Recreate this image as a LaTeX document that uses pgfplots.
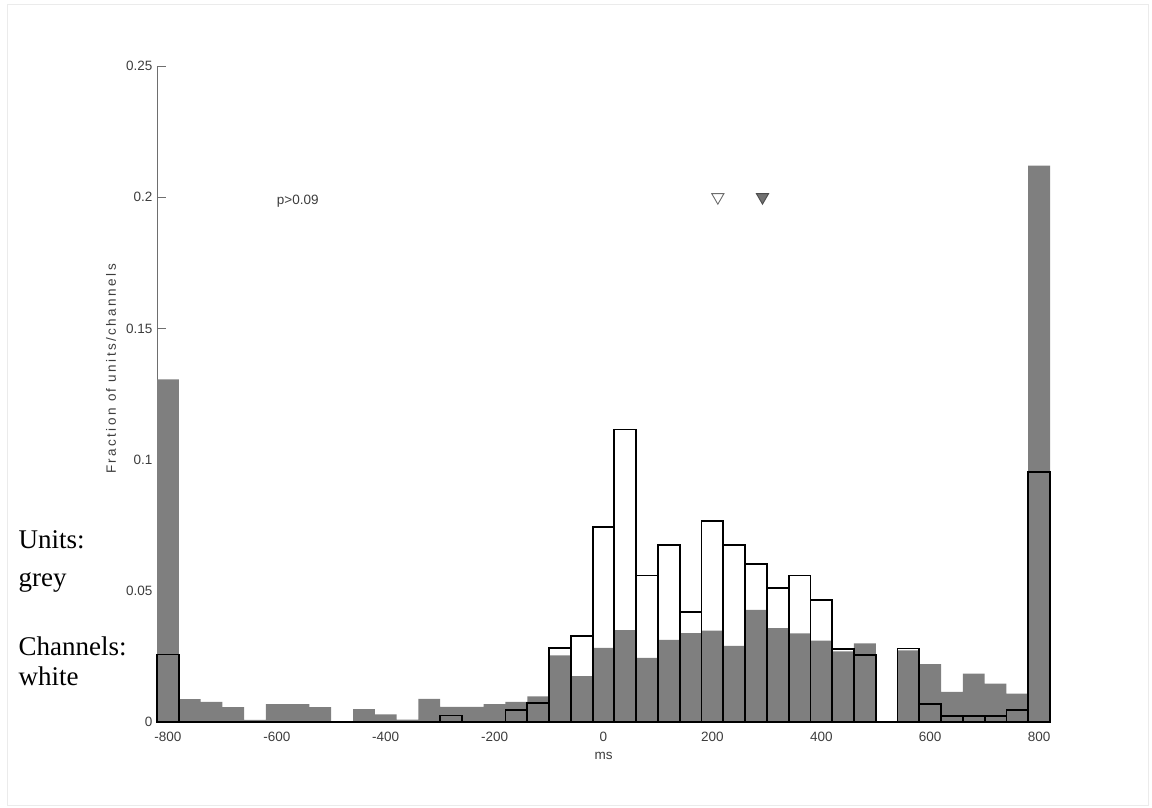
\documentclass[border=0pt]{standalone}
\usepackage{fontspec}
\setmainfont{Liberation Sans}
\newfontfamily\notefont{Liberation Serif}
\newfontfamily\ylabfont[LetterSpace=18]{Liberation Sans}
\usepackage{pgfplots}
\pgfplotsset{compat=1.18}
\usepackage{pgfplotstable}
\definecolor{bargrey}{RGB}{127,127,127}
\definecolor{axgrey}{RGB}{110,110,110}
\definecolor{txtgrey}{RGB}{60,60,60}
\newcommand{\axfont}{\fontsize{13.5}{15}\selectfont}

\pgfplotstableread{
x units channels
-800 0.1306 0.0257
-760 0.0087 0
-720 0.0077 0
-680 0.0057 0
-640 0.0008 0
-600 0.0068 0
-560 0.0068 0
-520 0.0057 0
-480 0 0
-440 0.0049 0
-400 0.0029 0
-360 0.0009 0
-320 0.0088 0
-280 0.0058 0.0025
-240 0.0058 0
-200 0.0068 0
-160 0.0077 0.0046
-120 0.0098 0.0071
-80 0.0254 0.0282
-40 0.0175 0.0327
0 0.0282 0.0743
40 0.0350 0.1115
80 0.0244 0.0558
120 0.0313 0.0675
160 0.0339 0.0418
200 0.0348 0.0767
240 0.0290 0.0675
280 0.0427 0.0602
320 0.0358 0.0510
360 0.0338 0.0558
400 0.0310 0.0465
440 0.0269 0.0279
480 0.0300 0.0256
520 0 0
560 0.0273 0.0280
600 0.0221 0.0070
640 0.0115 0.0023
680 0.0184 0.0023
720 0.0146 0.0023
760 0.0108 0.0046
800 0.2120 0.0953
}\datatable

\begin{document}
\begin{tikzpicture}[x=1pt,y=1pt]
\useasboundingbox (0,0) rectangle (1152,808);
\draw[black!8] (7.5,3) rectangle (1148,804);
\begin{axis}[
  at={(157pt,86pt)}, anchor=south west,
  scale only axis, width=893pt, height=656pt,
  xmin=-820, xmax=820, ymin=0, ymax=0.25,
  axis x line=bottom, axis y line=left,
  axis line style={-, axgrey, line width=0.8pt},
  xtick={-800,-600,-400,-200,0,200,400,600,800},
  xticklabels={-800,-600,-400,-200,0,200,400,600,800},
  ytick={0,0.05,0.1,0.15,0.2,0.25},
  yticklabels={0,0.05,0.1,0.15,0.2,0.25},
  tick align=inside,
  xtick style={draw=none},
  ytick style={axgrey, line width=0.8pt},
  major tick length=9pt,
  tick label style={txtgrey, inner sep=0pt, font=\axfont},
  xticklabel style={anchor=base, yshift=-20pt},
  yticklabel style={anchor=east, xshift=-4.3pt},
  xlabel={ms},
  xlabel style={at={(axis description cs:0.5,0)}, anchor=base, yshift=-38pt, txtgrey, inner sep=0pt, font=\axfont},
  ylabel={Fraction of units/channels},
  ylabel style={at={(axis description cs:-0.0515,0.538)}, anchor=center, txtgrey, inner sep=0pt, font=\ylabfont\fontsize{13.5}{15}\selectfont},
  clip=false,
]
\addplot[ybar, bar width=40, bar shift=0pt, fill=bargrey, draw=none] table[x=x,y=units]{\datatable};
\addplot[ybar, bar width=40, bar shift=0pt, fill=none, draw=black, line width=1.8pt] table[x=x,y=channels]{\datatable};
\addplot[only marks, mark=triangle*, mark size=7pt, mark options={rotate=180, fill=white, draw=axgrey, line width=0.9pt}] coordinates {(210,0.2)};
\addplot[only marks, mark=triangle*, mark size=7pt, mark options={rotate=180, fill=bargrey!90!black, draw=black!70, line width=0.9pt}] coordinates {(292,0.2)};
\node[anchor=base west, inner sep=0pt, txtgrey, font=\axfont] at (axis cs:-600,0.1972) {p>0.09};
\end{axis}
\begin{scope}[every node/.style={anchor=base west, inner sep=0pt, font=\notefont\fontsize{27}{29}\selectfont}]
\node at (18.5,259.7) {Units:};
\node at (18.5,221.3) {grey};
\node at (18.5,152) {Channels:};
\node at (18.5,122.3) {white};
\end{scope}
\end{tikzpicture}
\end{document}
